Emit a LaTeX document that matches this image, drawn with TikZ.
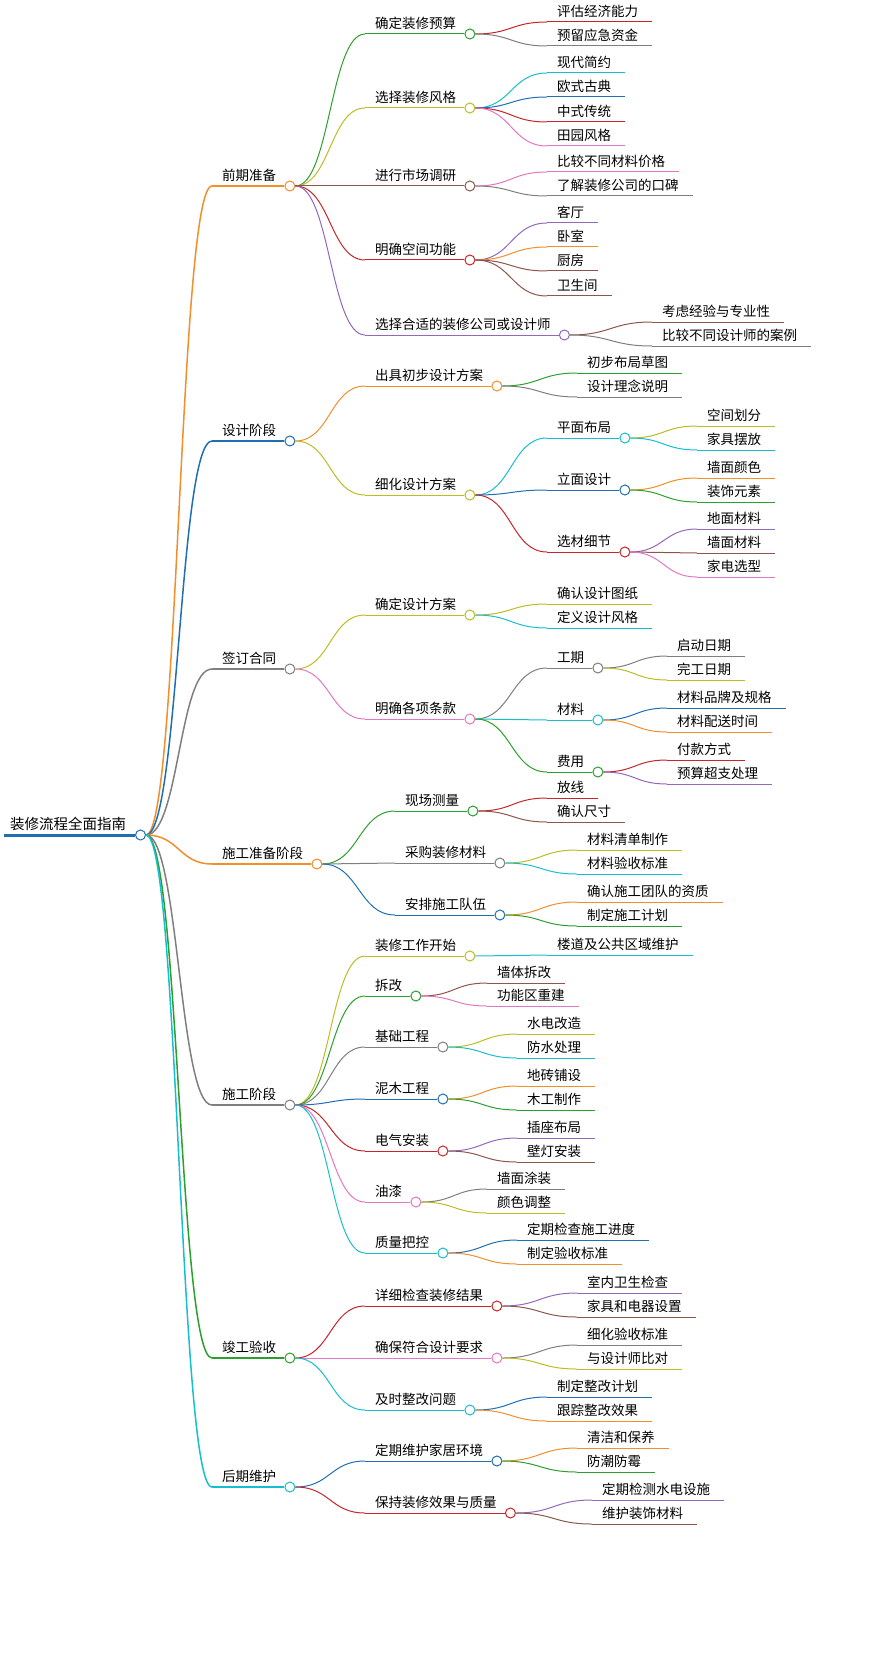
\documentclass[tikz,border=0pt]{standalone}
\usepackage{fontspec}
\setmainfont{Noto Sans CJK SC}
\usetikzlibrary{calc}
\definecolor{corange}{HTML}{F28E2B}
\definecolor{cblue}{HTML}{1F6FB2}
\definecolor{cgray}{HTML}{7F7F7F}
\definecolor{cgreen}{HTML}{2CA02C}
\definecolor{ccyan}{HTML}{17BECF}
\definecolor{cyellow}{HTML}{BCBD22}
\definecolor{cbrown}{HTML}{8C564B}
\definecolor{cred}{HTML}{C7252B}
\definecolor{cpink}{HTML}{E377C2}
\definecolor{cpurple}{HTML}{9467BD}
\tikzset{
  lbl/.style={inner sep=0pt, anchor=south west, font=\fontsize{13.5}{14}\selectfont},
  dot/.style={circle, fill=white, line width=1pt, minimum size=10pt, inner sep=0pt, anchor=west},
  link/.style={line width=1pt}
}
% curved connector, horizontal at both ends
\newcommand{\curve}[4]{%
  \draw[#3, line width=#4] let \p1=(#1), \p2=(#2), \n1={(\x2-\x1)/2} in
    (\p1) .. controls +(\n1,0) and +(-\n1,0) .. (\p2);
}
% #1 width, #2 parent, #3 name, #4 x, #5 y, #6 text, #7 colour
\newcommand{\branch}[7]{%
  \node[lbl] (#3) at (#4,-#5+4) {#6};
  \coordinate (#3-in) at (#4-10,-#5);
  \node[dot, draw=#7] (#3-c) at ($(#3.south east)+(8,-4)$) {};
  \draw[#7, line width=#1] (#3-in) -- (#3-c.west);
  \curve{#2-c.east}{#3-in}{#7}{#1}
}
% #1 parent, #2 name, #3 x, #4 y, #5 text, #6 colour
\newcommand{\leafnode}[6]{%
  \node[lbl] (#2) at (#3,-#4+4) {#5};
  \coordinate (#2-in) at (#3-10,-#4);
  \draw[#6, link] (#2-in) -- ($(#2.south east)+(14,-4)$);
  \curve{#1-c.east}{#2-in}{#6}{1pt}
}
\begin{document}
\begin{tikzpicture}[x=1pt,y=1pt]
\useasboundingbox (0,0) rectangle (879,-1669);
% root
\node[lbl, font=\fontsize{14.5}{15}\selectfont] (r) at (10,-831) {装修流程全面指南};
\node[dot, draw=cblue] (r-c) at (135,-835) {};
\draw[cblue, line width=3pt] (4,-835) -- (r-c.west);
% 前期准备
\branch{1.5pt}{r}{a}{222}{186}{前期准备}{corange}
\branch{1pt}{a}{a1}{375}{34}{确定装修预算}{cgreen}
\leafnode{a1}{a11}{557}{22}{评估经济能力}{cred}
\leafnode{a1}{a12}{557}{46}{预留应急资金}{cgray}
\branch{1pt}{a}{a2}{375}{108}{选择装修风格}{cyellow}
\leafnode{a2}{a21}{557}{73}{现代简约}{ccyan}
\leafnode{a2}{a22}{557}{97}{欧式古典}{cblue}
\leafnode{a2}{a23}{557}{122}{中式传统}{cred}
\leafnode{a2}{a24}{557}{146}{田园风格}{cpink}
\branch{1pt}{a}{a3}{375}{186}{进行市场调研}{cbrown}
\leafnode{a3}{a31}{557}{172}{比较不同材料价格}{cpink}
\leafnode{a3}{a32}{557}{196}{了解装修公司的口碑}{cgray}
\branch{1pt}{a}{a4}{375}{260}{明确空间功能}{cred}
\leafnode{a4}{a41}{557}{223}{客厅}{cpurple}
\leafnode{a4}{a42}{557}{247}{卧室}{corange}
\leafnode{a4}{a43}{557}{271}{厨房}{cbrown}
\leafnode{a4}{a44}{557}{296}{卫生间}{cbrown}
\branch{1pt}{a}{a5}{375}{335}{选择合适的装修公司或设计师}{cpurple}
\leafnode{a5}{a51}{662}{322}{考虑经验与专业性}{cbrown}
\leafnode{a5}{a52}{662}{346}{比较不同设计师的案例}{cgray}
% 设计阶段
\branch{1.5pt}{r}{b}{222}{441}{设计阶段}{cblue}
\branch{1pt}{b}{b1}{375}{386}{出具初步设计方案}{corange}
\leafnode{b1}{b11}{587}{373}{初步布局草图}{cgreen}
\leafnode{b1}{b12}{587}{397}{设计理念说明}{cgray}
\branch{1pt}{b}{b2}{375}{495}{细化设计方案}{cyellow}
\branch{1pt}{b2}{b21}{557}{438}{平面布局}{ccyan}
\leafnode{b21}{b211}{707}{426}{空间划分}{cyellow}
\leafnode{b21}{b212}{707}{450}{家具摆放}{ccyan}
\branch{1pt}{b2}{b22}{557}{490}{立面设计}{cblue}
\leafnode{b22}{b221}{707}{478}{墙面颜色}{corange}
\leafnode{b22}{b222}{707}{502}{装饰元素}{cgreen}
\branch{1pt}{b2}{b23}{557}{552}{选材细节}{cred}
\leafnode{b23}{b231}{707}{529}{地面材料}{cpurple}
\leafnode{b23}{b232}{707}{553}{墙面材料}{cbrown}
\leafnode{b23}{b233}{707}{577}{家电选型}{cpink}
% 签订合同
\branch{1.5pt}{r}{c}{222}{669}{签订合同}{cgray}
\branch{1pt}{c}{c1}{375}{615}{确定设计方案}{cyellow}
\leafnode{c1}{c11}{557}{604}{确认设计图纸}{cyellow}
\leafnode{c1}{c12}{557}{628}{定义设计风格}{ccyan}
\branch{1pt}{c}{c2}{375}{719}{明确各项条款}{cpink}
\branch{1pt}{c2}{c21}{557}{668}{工期}{cgray}
\leafnode{c21}{c211}{677}{656}{启动日期}{cgray}
\leafnode{c21}{c212}{677}{680}{完工日期}{cyellow}
\branch{1pt}{c2}{c22}{557}{720}{材料}{ccyan}
\leafnode{c22}{c221}{677}{708}{材料品牌及规格}{cblue}
\leafnode{c22}{c222}{677}{732}{材料配送时间}{corange}
\branch{1pt}{c2}{c23}{557}{772}{费用}{cgreen}
\leafnode{c23}{c231}{677}{760}{付款方式}{cred}
\leafnode{c23}{c232}{677}{784}{预算超支处理}{cpurple}
% 施工准备阶段
\branch{1.5pt}{r}{d}{222}{864}{施工准备阶段}{corange}
\branch{1pt}{d}{d1}{405}{811}{现场测量}{cgreen}
\leafnode{d1}{d11}{557}{798}{放线}{cred}
\leafnode{d1}{d12}{557}{822}{确认尺寸}{cbrown}
\branch{1pt}{d}{d2}{405}{863}{采购装修材料}{cgray}
\leafnode{d2}{d21}{587}{850}{材料清单制作}{cyellow}
\leafnode{d2}{d22}{587}{874}{材料验收标准}{ccyan}
\branch{1pt}{d}{d3}{405}{915}{安排施工队伍}{cblue}
\leafnode{d3}{d31}{587}{902}{确认施工团队的资质}{corange}
\leafnode{d3}{d32}{587}{926}{制定施工计划}{cgreen}
% 施工阶段
\branch{1.5pt}{r}{e}{222}{1105}{施工阶段}{cgray}
\branch{1pt}{e}{e1}{375}{956}{装修工作开始}{cyellow}
\leafnode{e1}{e11}{557}{955}{楼道及公共区域维护}{ccyan}
\branch{1pt}{e}{e2}{375}{996}{拆改}{cgreen}
\leafnode{e2}{e21}{497}{983}{墙体拆改}{cbrown}
\leafnode{e2}{e22}{497}{1006}{功能区重建}{cpink}
\branch{1pt}{e}{e3}{375}{1047}{基础工程}{cgray}
\leafnode{e3}{e31}{527}{1034}{水电改造}{cyellow}
\leafnode{e3}{e32}{527}{1058}{防水处理}{ccyan}
\branch{1pt}{e}{e4}{375}{1099}{泥木工程}{cblue}
\leafnode{e4}{e41}{527}{1086}{地砖铺设}{corange}
\leafnode{e4}{e42}{527}{1110}{木工制作}{cgreen}
\branch{1pt}{e}{e5}{375}{1151}{电气安装}{cred}
\leafnode{e5}{e51}{527}{1138}{插座布局}{cpurple}
\leafnode{e5}{e52}{527}{1162}{壁灯安装}{cbrown}
\branch{1pt}{e}{e6}{375}{1202}{油漆}{cpink}
\leafnode{e6}{e61}{497}{1189}{墙面涂装}{cgray}
\leafnode{e6}{e62}{497}{1213}{颜色调整}{cyellow}
\branch{1pt}{e}{e7}{375}{1253}{质量把控}{ccyan}
\leafnode{e7}{e71}{527}{1240}{定期检查施工进度}{cblue}
\leafnode{e7}{e72}{527}{1264}{制定验收标准}{corange}
% 竣工验收
\branch{1.5pt}{r}{f}{222}{1358}{竣工验收}{cgreen}
\branch{1pt}{f}{f1}{375}{1306}{详细检查装修结果}{cred}
\leafnode{f1}{f11}{587}{1293}{室内卫生检查}{cpurple}
\leafnode{f1}{f12}{587}{1317}{家具和电器设置}{cbrown}
\branch{1pt}{f}{f2}{375}{1358}{确保符合设计要求}{cpink}
\leafnode{f2}{f21}{587}{1345}{细化验收标准}{cgray}
\leafnode{f2}{f22}{587}{1369}{与设计师比对}{cyellow}
\branch{1pt}{f}{f3}{375}{1410}{及时整改问题}{ccyan}
\leafnode{f3}{f31}{557}{1397}{制定整改计划}{cblue}
\leafnode{f3}{f32}{557}{1421}{跟踪整改效果}{corange}
% 后期维护
\branch{1.5pt}{r}{g}{222}{1487}{后期维护}{ccyan}
\branch{1pt}{g}{g1}{375}{1461}{定期维护家居环境}{cblue}
\leafnode{g1}{g11}{587}{1448}{清洁和保养}{corange}
\leafnode{g1}{g12}{587}{1472}{防潮防霉}{cgreen}
\branch{1pt}{g}{g2}{375}{1513}{保持装修效果与质量}{cred}
\leafnode{g2}{g21}{602}{1500}{定期检测水电设施}{cpurple}
\leafnode{g2}{g22}{602}{1524}{维护装饰材料}{cbrown}
\end{tikzpicture}
\end{document}
